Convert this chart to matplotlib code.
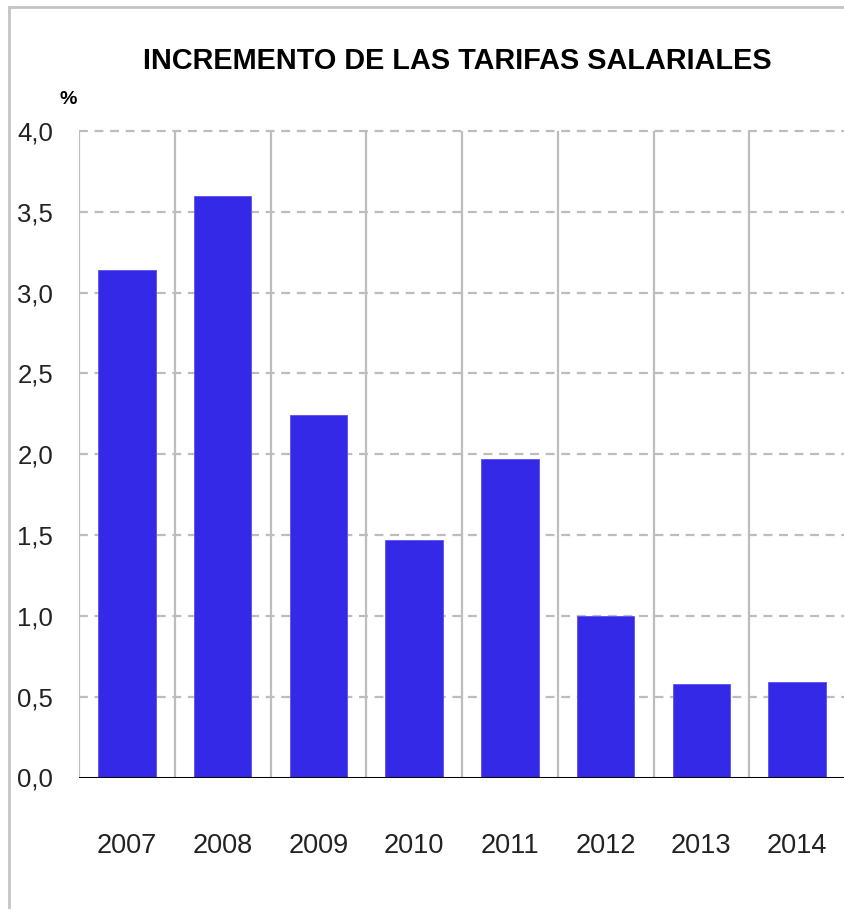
import matplotlib
matplotlib.use("Agg")
import matplotlib.pyplot as plt
from matplotlib.lines import Line2D

years = ["2007", "2008", "2009", "2010", "2011", "2012", "2013", "2014"]
values = [3.14, 3.60, 2.24, 1.47, 1.97, 1.00, 0.58, 0.59]
yticks = [0.0, 0.5, 1.0, 1.5, 2.0, 2.5, 3.0, 3.5, 4.0]
ytick_labels = ["0,0", "0,5", "1,0", "1,5", "2,0", "2,5", "3,0", "3,5", "4,0"]
title = "INCREMENTO DE LAS TARIFAS SALARIALES"

plt.rcParams['font.family'] = ['Liberation Sans', 'DejaVu Sans']

W, H = 844, 909
fig = plt.figure(figsize=(W / 100, H / 100), dpi=100)
fig.patch.set_facecolor("white")

left = 79 / W
right = 845 / W
top = 1 - 131 / H
bottom = 1 - 777.5 / H
ax = fig.add_axes([left, bottom, right - left, top - bottom])
ax.set_facecolor("white")

n = len(years)
x = list(range(n))
ax.bar(x, values, width=0.6, color="#3529E8", edgecolor="#5a50f0", linewidth=0.6, zorder=3)

ax.set_xlim(-0.5, n - 0.5)
ax.set_ylim(0, 4.0)

# horizontal dashed gridlines
for t in yticks[1:]:
    ax.axhline(t, color="#bdbdbd", linestyle=(0, (4, 3)), linewidth=1.6, zorder=1, clip_on=False)
# vertical category separators
for b in range(n):
    ax.axvline(b - 0.5, color="#bdbdbd", linewidth=1.6, zorder=2)

for s in ax.spines.values():
    s.set_visible(False)
ax.axhline(0, color="black", linewidth=2.2, zorder=4)

ax.set_yticks(yticks)
ax.set_yticklabels(ytick_labels, fontsize=18.5, color="#222222")
ax.set_xticks(x)
ax.set_xticklabels(years, fontsize=19.5, color="#222222")
ax.tick_params(axis="y", length=0, pad=18.5)
ax.tick_params(axis="x", length=0, pad=40)

fig.text(457 / W, 1 - 61 / H, title, ha="center", va="center",
         fontsize=20.8, fontweight="bold", color="black")
fig.text(68.5 / W, 1 - 99 / H, "%", ha="center", va="center",
         fontsize=14, fontweight="bold", color="black")

# outer frame (left and top)
fig.add_artist(Line2D([9 / W, 9 / W], [0, 1 - 7 / H], color="#c4c4c4", linewidth=2, transform=fig.transFigure))
fig.add_artist(Line2D([9 / W, 1], [1 - 7 / H, 1 - 7 / H], color="#c4c4c4", linewidth=2, transform=fig.transFigure))

fig.savefig("out.png", dpi=100, facecolor="white")
